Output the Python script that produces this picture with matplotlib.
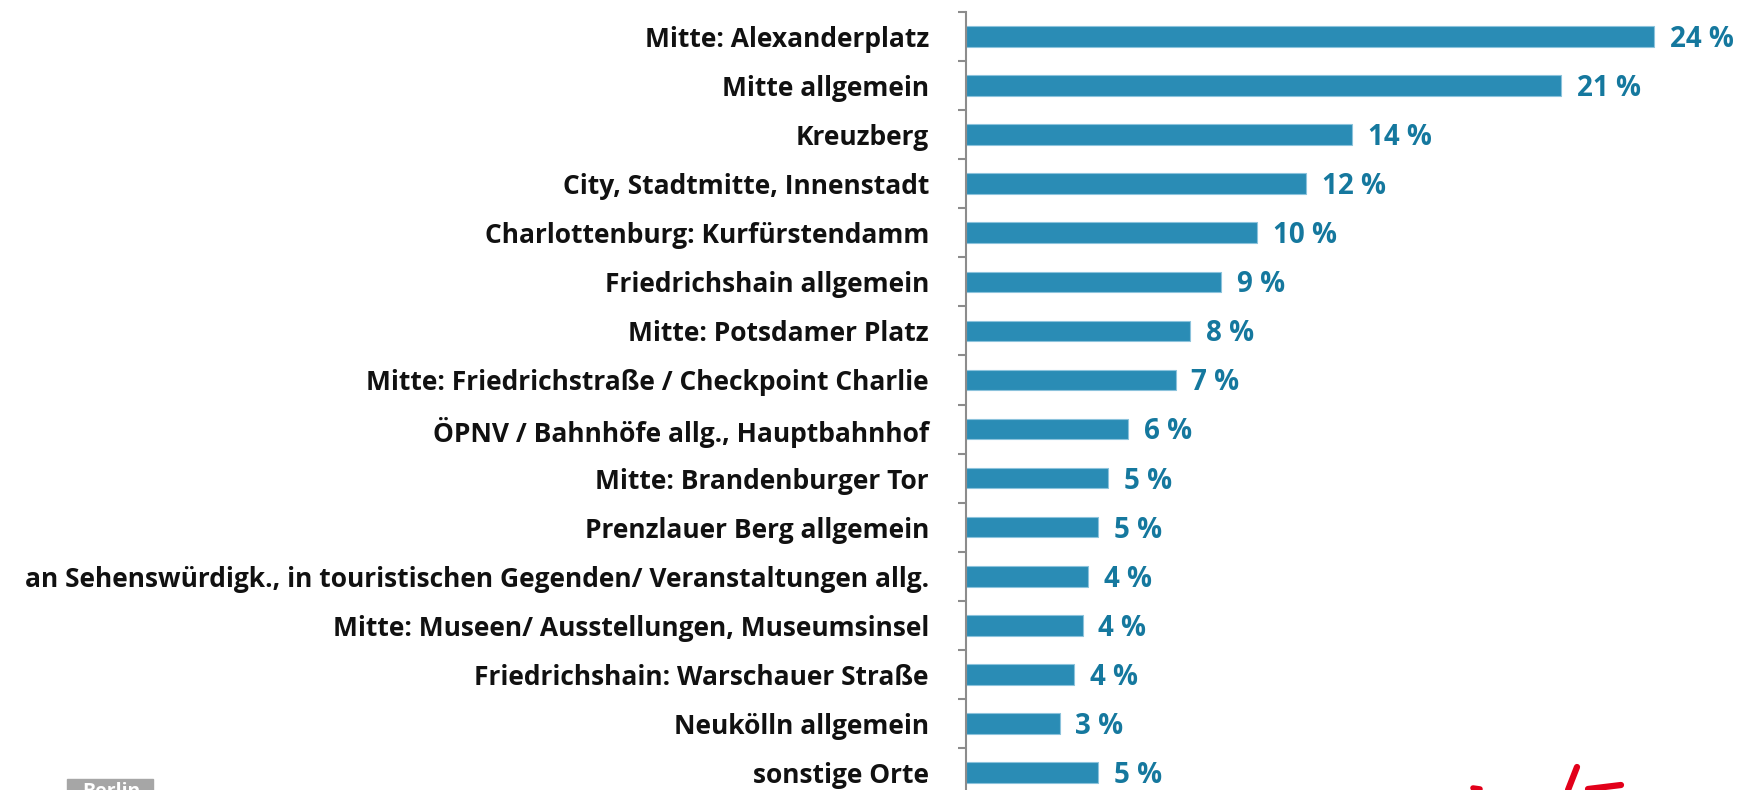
import matplotlib
matplotlib.use('Agg')
import matplotlib.pyplot as plt
from matplotlib.patches import Rectangle

categories = [
    'Mitte: Alexanderplatz',
    'Mitte allgemein',
    'Kreuzberg',
    'City, Stadtmitte, Innenstadt',
    'Charlottenburg: Kurfürstendamm',
    'Friedrichshain allgemein',
    'Mitte: Potsdamer Platz',
    'Mitte: Friedrichstraße / Checkpoint Charlie',
    'ÖPNV / Bahnhöfe allg., Hauptbahnhof',
    'Mitte: Brandenburger Tor',
    'Prenzlauer Berg allgemein',
    'an Sehenswürdigk., in touristischen Gegenden/ Veranstaltungen allg.',
    'Mitte: Museen/ Ausstellungen, Museumsinsel',
    'Friedrichshain: Warschauer Straße',
    'Neukölln allgemein',
    'sonstige Orte',
]
values = [24.0, 20.75, 13.45, 11.85, 10.15, 8.9, 7.8, 7.3, 5.65, 4.95,
          4.6, 4.25, 4.05, 3.75, 3.25, 4.6]
value_labels = ['24 %', '21 %', '14 %', '12 %', '10 %', '9 %', '8 %', '7 %',
                '6 %', '5 %', '5 %', '4 %', '4 %', '4 %', '3 %', '5 %']

plt.rcParams['font.family'] = ['Open Sans', 'DejaVu Sans']
plt.rcParams['font.weight'] = 'bold'

fig = plt.figure(figsize=(17.4, 7.9), dpi=100)
ax = fig.add_axes([966.5 / 1740, -7 / 790, 1 - 966.5 / 1740, 785 / 790])

pos = list(range(len(categories)))
ax.barh(pos, values, height=0.42, color='#2a8cb5', edgecolor='#8cc3dc',
        linewidth=0.8)
ax.set_ylim(len(categories) - 0.5, -0.5)
ax.set_xlim(0, 27)

for y, v, lab in zip(pos, values, value_labels):
    ax.text(v + 0.55, y + 0.06, lab, va='center', ha='left', fontsize=20,
            fontweight='bold', color='#15789e', clip_on=False)

ax.set_yticks(pos)
ax.set_yticklabels(categories, fontsize=19, fontweight='bold', color='#111111')
ax.tick_params(axis='y', which='major', length=0, pad=27)
ax.set_yticks([p + 0.5 for p in pos[:-1]] + [-0.5], minor=True)
ax.tick_params(axis='y', which='minor', length=6, width=1.5, color='#8c8c8c',
               direction='out')
ax.set_xticks([])
for s in ['top', 'right', 'bottom']:
    ax.spines[s].set_visible(False)
ax.spines['left'].set_color('#8c8c8c')
ax.spines['left'].set_linewidth(1.5)

# cut-off footer elements
fig.patches.append(Rectangle((67 / 1740, 0), 86 / 1740, 11 / 790,
                             transform=fig.transFigure, color='#a6a6a6',
                             zorder=0))
fig.text(82 / 1740, -12 / 790, 'Berlin', color='white', fontsize=14,
         fontweight='bold', va='bottom')
fig.lines.append(plt.Line2D([1577 / 1740, 1568 / 1740], [23 / 790, 0],
                            transform=fig.transFigure, color='#e2001a', lw=4.5,
                            solid_capstyle='round'))
fig.lines.append(plt.Line2D([1588 / 1740, 1621 / 1740], [1 / 790, 5 / 790],
                            transform=fig.transFigure, color='#e2001a', lw=4.5,
                            solid_capstyle='round'))
fig.lines.append(plt.Line2D([1473 / 1740, 1480 / 1740], [2 / 790, 1 / 790],
                            transform=fig.transFigure, color='#e2001a', lw=4,
                            solid_capstyle='round'))

fig.savefig('out.png', dpi=100)
